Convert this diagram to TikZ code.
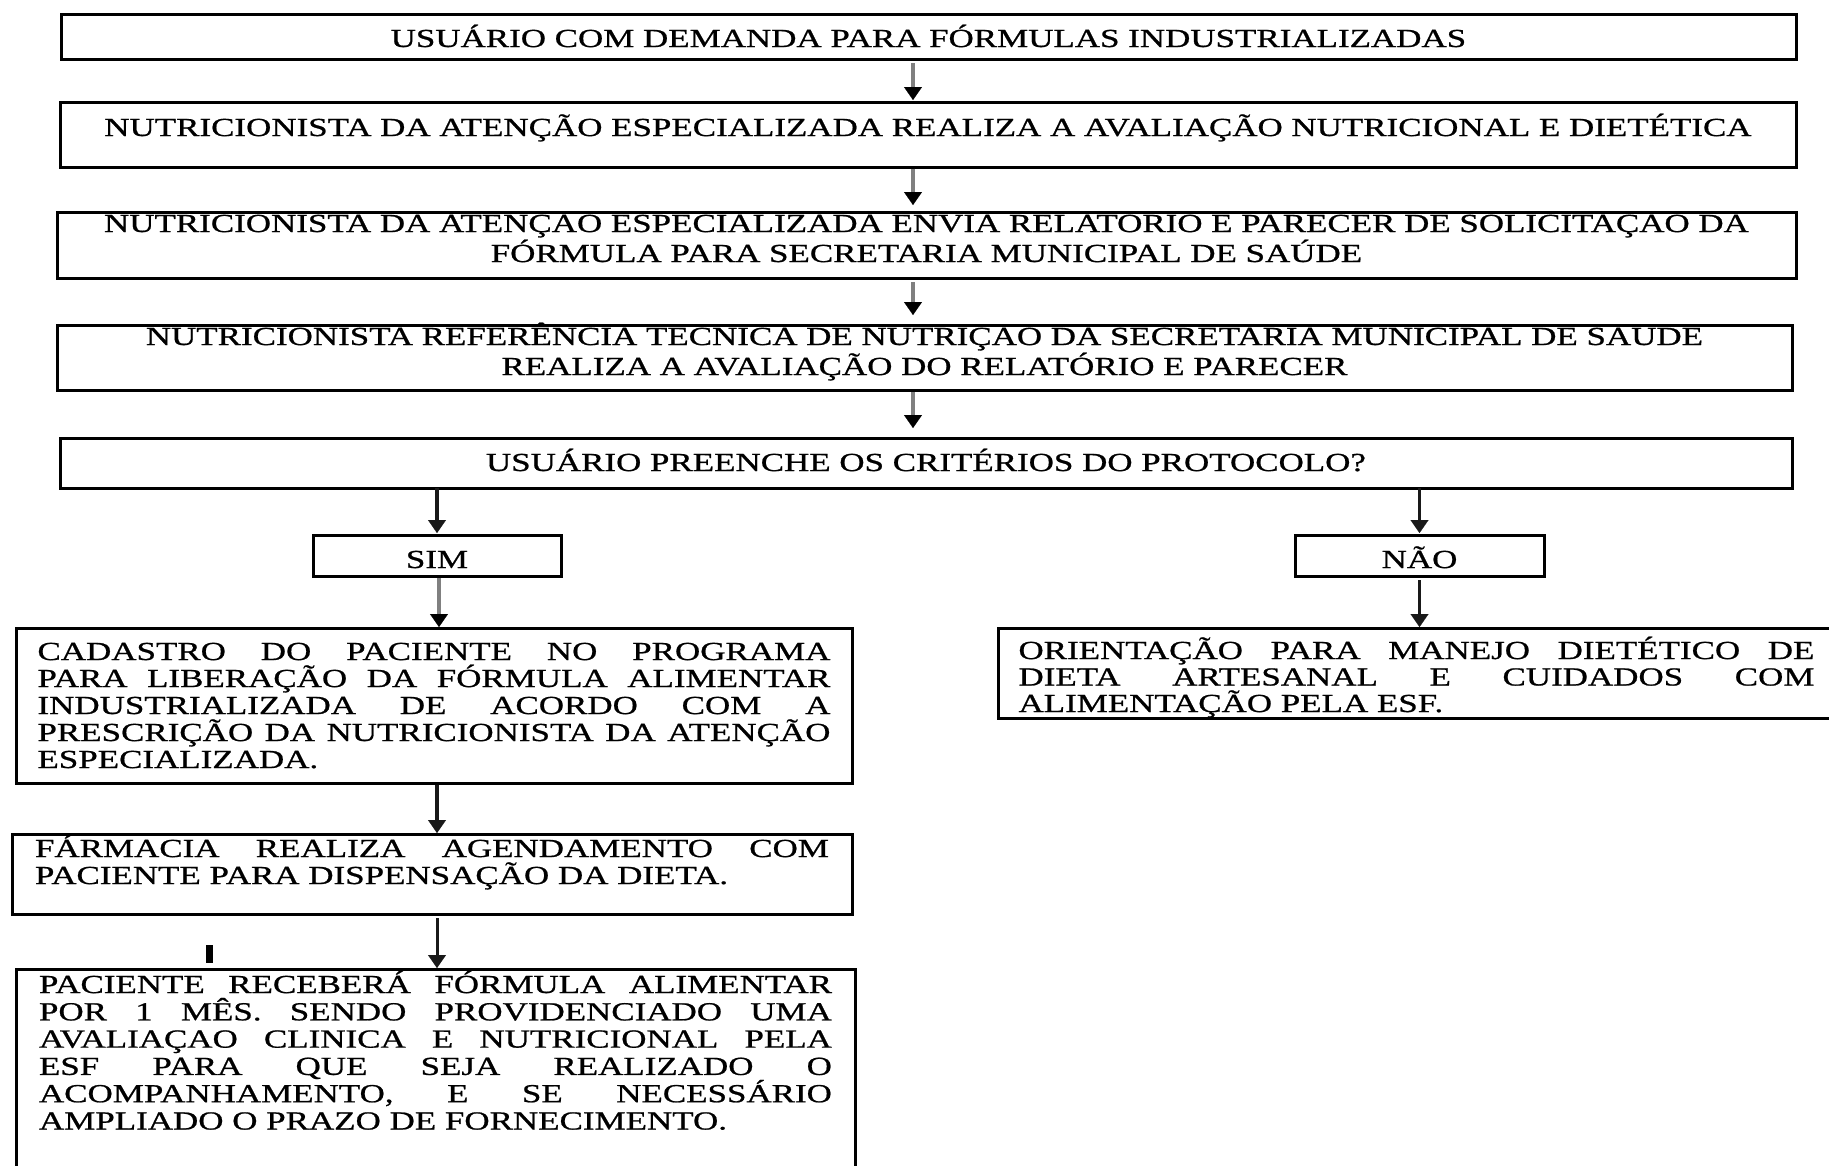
\documentclass[tikz,border=0pt]{standalone}
\usepackage{fontspec}
\setmainfont{Liberation Serif}[FakeStretch=1.345,FakeBold=0.8]
\usetikzlibrary{arrows.meta}
\tolerance=10000
\hyphenpenalty=10000
\exhyphenpenalty=10000
\tikzset{
  box/.style={draw=black, line width=3pt, outer sep=0pt, inner ysep=0pt,
    anchor=base west, font=\fontsize{26}{30}\selectfont},
  cbox/.style={box, align=center, inner xsep=10pt},
  jbox/.style={box, align=justify, font=\fontsize{26}{27}\selectfont},
  garrow/.style={draw=black!50, line width=4pt,
    -{Triangle[length=13pt,width=18pt,color=black,line width=0.1pt]}},
  barrow/.style={draw=black!90, line width=3.5pt,
    -{Triangle[length=13pt,width=18pt,line width=0.1pt]}}
}
\begin{document}
\begin{tikzpicture}[x=1pt,y=1pt]
\fill[white] (0,0) rectangle (1829,-1165);
\useasboundingbox (0,0) rectangle (1829,-1165);

\node[cbox, text width=1715pt, text height=33pt, text depth=12pt] (b1) at (61,-47)
  {USUÁRIO COM DEMANDA PARA FÓRMULAS INDUSTRIALIZADAS};
\node[cbox, text width=1716pt, text height=34pt, text depth=31pt] (b2) at (60,-136)
  {NUTRICIONISTA DA ATENÇÃO ESPECIALIZADA REALIZA A AVALIAÇÃO NUTRICIONAL E DIETÉTICA};
\node[cbox, text width=1719pt, text height=20pt, text depth=46pt] (b3) at (57,-232)
  {NUTRICIONISTA DA ATENÇAO ESPECIALIZADA ENVIA RELATORIO E PARECER DE SOLICITAÇAO DA\\
   FÓRMULA PARA SECRETARIA MUNICIPAL DE SAÚDE};
\node[cbox, text width=1715pt, text height=20pt, text depth=45pt] (b4) at (57,-345)
  {NUTRICIONISTA REFERÊNCIA TECNICA DE NUTRIÇAO DA SECRETARIA MUNICIPAL DE SAUDE\\
   REALIZA A AVALIAÇÃO DO RELATÓRIO E PARECER};
\node[cbox, text width=1712pt, text height=33pt, text depth=17pt] (b5) at (60,-471)
  {USUÁRIO PREENCHE OS CRITÉRIOS DO PROTOCOLO?};

\node[box, minimum width=248pt, text height=33pt, text depth=8pt] (sim) at (313,-568) {SIM};
\node[box, minimum width=249pt, text height=33pt, text depth=8pt] (nao) at (1295,-568) {NÃO};

\node[jbox, text width=793pt, inner xsep=21.5pt, text height=32pt, text depth=123pt] (cad) at (16,-660)
  {CADASTRO DO PACIENTE NO PROGRAMA\linebreak
   PARA LIBERAÇÃO DA FÓRMULA ALIMENTAR\linebreak
   INDUSTRIALIZADA DE ACORDO COM A\linebreak
   PRESCRIÇÃO DA NUTRICIONISTA DA ATENÇÃO\linebreak
   ESPECIALIZADA.};
\node[jbox, text width=794pt, inner xsep=23pt, text height=23pt, text depth=57pt] (far) at (12,-857)
  {FÁRMACIA REALIZA AGENDAMENTO COM\linebreak
   PACIENTE PARA DISPENSAÇÃO DA DIETA.};
\node[jbox, font=\fontsize{26}{27.3}\selectfont, text width=793pt, inner xsep=23pt, text height=24pt, text depth=182pt] (pac) at (16,-993)
  {PACIENTE RECEBERÁ FÓRMULA ALIMENTAR\linebreak
   POR 1 MÊS. SENDO PROVIDENCIADO UMA\linebreak
   AVALIAÇAO CLINICA E NUTRICIONAL PELA\linebreak
   ESF PARA QUE SEJA REALIZADO O\linebreak
   ACOMPANHAMENTO, E SE NECESSÁRIO\linebreak
   AMPLIADO O PRAZO DE FORNECIMENTO.};
\node[jbox, font=\fontsize{26}{26.5}\selectfont, text width=796pt, inner xsep=20.5pt, text height=31pt, text depth=59pt] (ori) at (998,-659)
  {ORIENTAÇÃO PARA MANEJO DIETÉTICO DE\linebreak
   DIETA ARTESANAL E CUIDADOS COM\linebreak
   ALIMENTAÇÃO PELA ESF.};

\coordinate (ax) at (913,0);
\draw[garrow, shorten <=4pt, shorten >=2pt] (b1.south -| ax) -- (b2.north -| ax);
\draw[garrow, shorten <=1.5pt, shorten >=7pt] (b2.south -| ax) -- (b3.north -| ax);
\draw[garrow, shorten <=4pt, shorten >=10pt] (b3.south -| ax) -- (b4.north -| ax);
\draw[garrow, shorten <=2pt, shorten >=10pt] (b4.south -| ax) -- (b5.north -| ax);

\draw[barrow, shorten >=2pt] (sim.north |- b5.south) -- (sim.north);
\draw[barrow, shorten >=2pt] (nao.north |- b5.south) -- (nao.north);
\draw[garrow, shorten <=2pt, shorten >=1pt] ([xshift=2pt]sim.south) -- ([xshift=2pt]sim.south |- cad.north);
\draw[barrow, shorten <=4pt, shorten >=1pt] (nao.south) -- (nao.south |- ori.north);
\draw[barrow, shorten <=2pt, shorten >=1pt] (cad.south -| sim) -- (far.north -| sim);
\draw[barrow, line width=3pt, shorten <=4pt, shorten >=1pt] (far.south -| sim) -- (pac.north -| sim);

\fill (206,-945) rectangle (213,-963);
\end{tikzpicture}
\end{document}
